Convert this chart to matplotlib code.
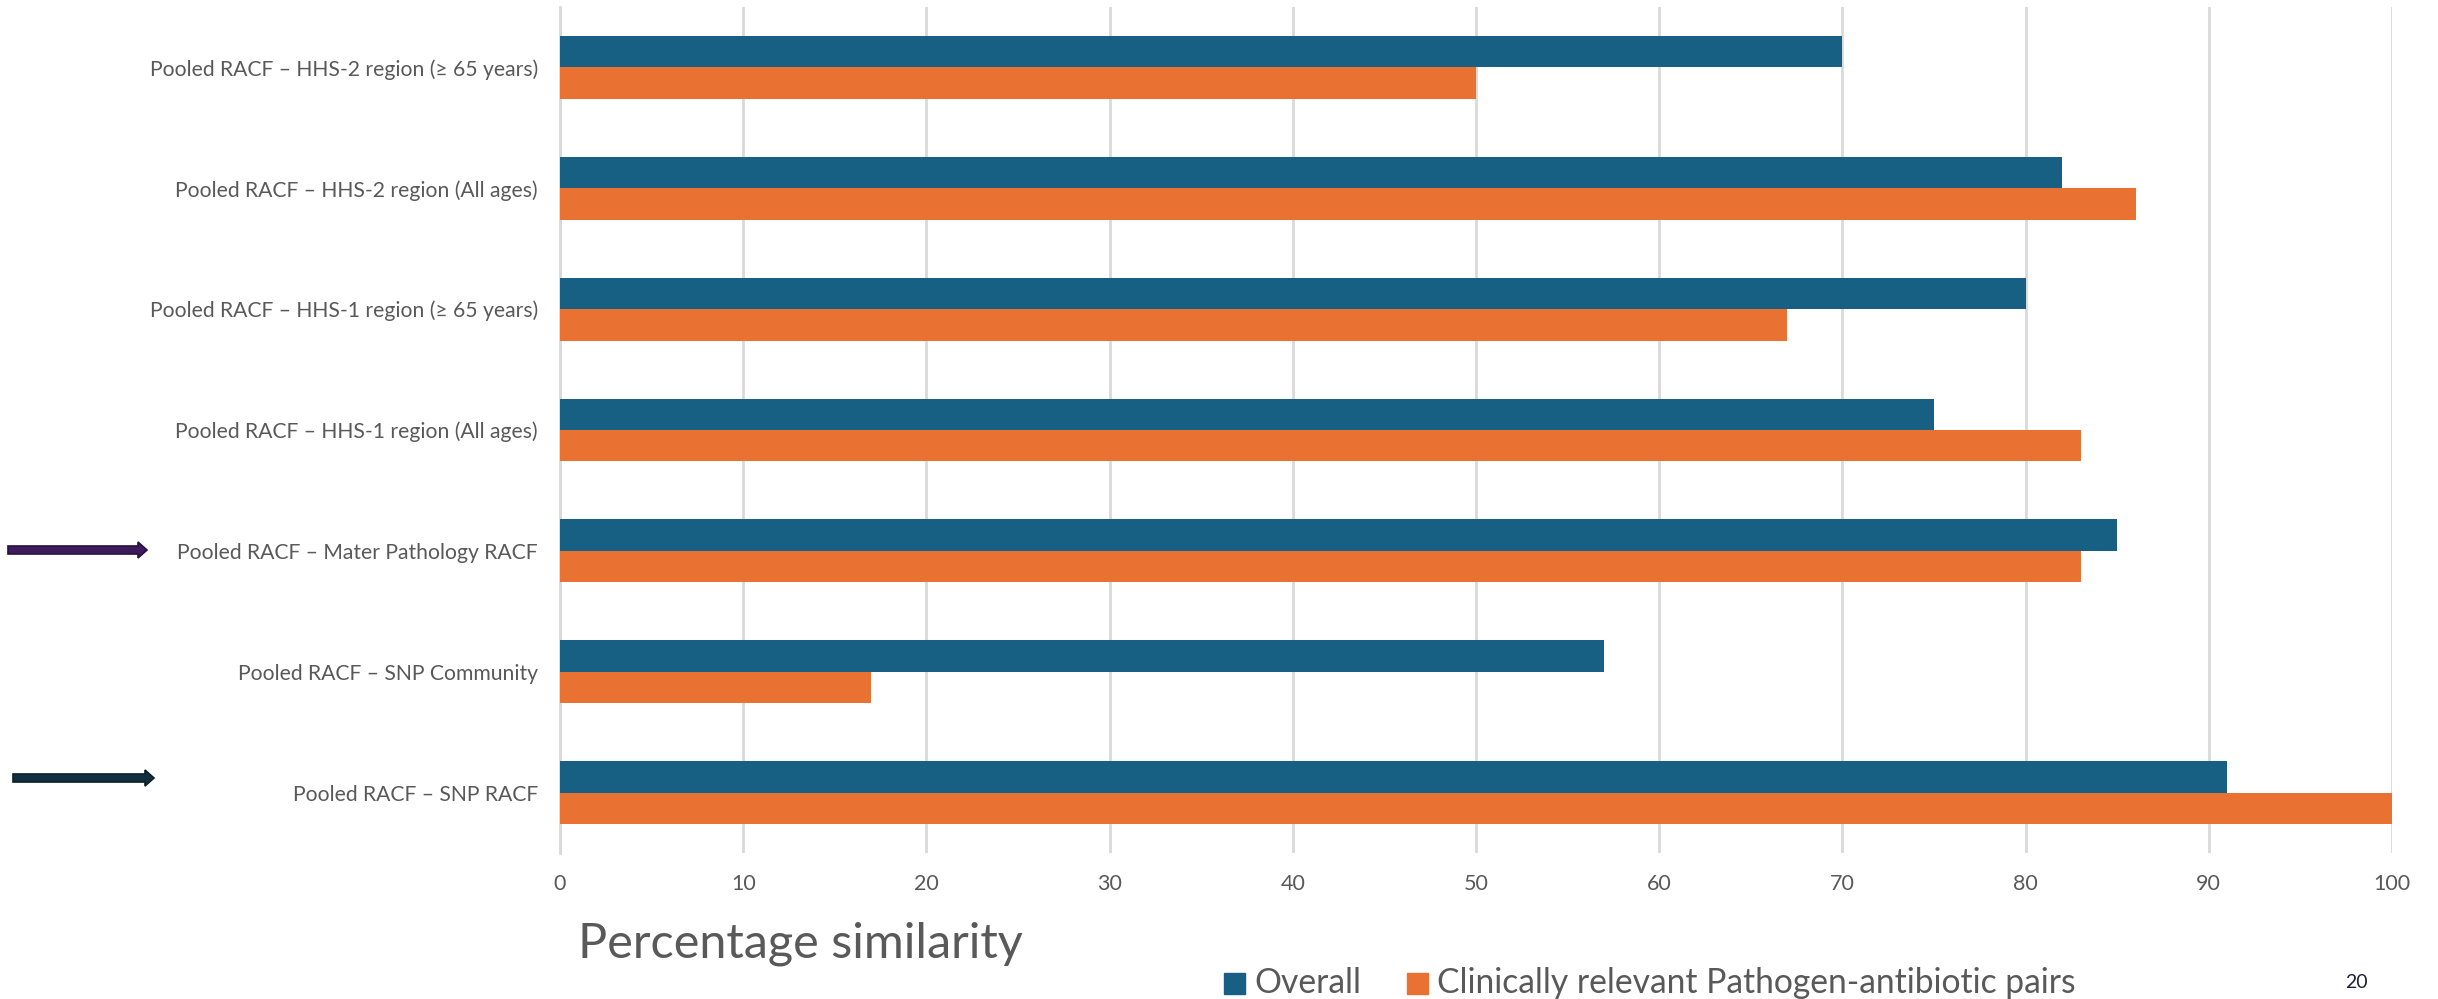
import matplotlib
matplotlib.use("Agg")
import matplotlib.pyplot as plt
from matplotlib.patches import FancyArrow, Rectangle
import numpy as np

categories = [
    "Pooled RACF – HHS-2 region (≥ 65 years)",
    "Pooled RACF – HHS-2 region (All ages)",
    "Pooled RACF – HHS-1 region (≥ 65 years)",
    "Pooled RACF – HHS-1 region (All ages)",
    "Pooled RACF – Mater Pathology RACF",
    "Pooled RACF – SNP Community",
    "Pooled RACF – SNP RACF",
]
overall = [70, 82, 80, 75, 85, 57, 91]
clinical = [50, 86, 67, 83, 83, 17, 100]
series_names = ["Overall", "Clinically relevant Pathogen-antibiotic pairs"]
xticks = [0, 10, 20, 30, 40, 50, 60, 70, 80, 90, 100]

BLUE = "#176084"
ORANGE = "#E97132"
GRID = "#D9D9D9"
TXT = "#595959"
FONT = ["Lato", "DejaVu Sans"]
plt.rcParams["font.family"] = FONT

W, H = 2438, 999
fig = plt.figure(figsize=(W / 100, H / 100), dpi=100)
fig.patch.set_facecolor("white")

L, R, T, B = 560, 2392, 7, 853
ax = fig.add_axes([L / W, 1 - B / H, (R - L) / W, (B - T) / H])

y = np.arange(len(categories))
bh = 0.26
ax.barh(y - bh / 2, overall, height=bh, color=BLUE, zorder=3)
ax.barh(y + bh / 2, clinical, height=bh, color=ORANGE, zorder=3)

ax.set_xlim(0, 100)
ax.set_ylim(len(categories) - 0.5, -0.5)
ax.set_xticks(xticks)
ax.set_xticklabels([str(v) for v in xticks])
ax.set_yticks(y)
ax.set_yticklabels(categories)
ax.xaxis.grid(True, color=GRID, linewidth=2, zorder=0)
ax.yaxis.grid(False)
for s in ["top", "right", "bottom"]:
    ax.spines[s].set_visible(False)
ax.spines["left"].set_color(GRID)
ax.spines["left"].set_linewidth(2)
ax.tick_params(axis="both", length=0, colors=TXT)
ax.tick_params(axis="x", labelsize=15.5, pad=15)
ax.tick_params(axis="y", labelsize=15.2, pad=16)

# axis title
fig.text(578 / W, 1 - 944 / H, "Percentage similarity", fontsize=35, color=TXT,
         ha="left", va="center")

# legend (manual)
leg_y = 1 - 983 / H
sq = 21
fig.add_artist(Rectangle((1224 / W, 1 - 994 / H), sq / W, sq / H,
                         transform=fig.transFigure, color=BLUE))
fig.text(1254 / W, leg_y, series_names[0], fontsize=24.2, color=TXT, ha="left", va="center")
fig.add_artist(Rectangle((1407 / W, 1 - 994 / H), sq / W, sq / H,
                         transform=fig.transFigure, color=ORANGE))
fig.text(1437 / W, leg_y, series_names[1], fontsize=24.2, color=TXT, ha="left", va="center")

# page number
fig.text(2356 / W, 1 - 983 / H, "20", fontsize=14, color="#1F1F3F", ha="center", va="center")

# arrows
def add_arrow(x0, x1, yc, fc, ec):
    hl = 9
    fig.add_artist(FancyArrow(x0 / W, 1 - yc / H, (x1 - x0) / W, 0,
                              width=8 / H, head_width=16 / H, head_length=hl / W,
                              length_includes_head=True, transform=fig.transFigure,
                              facecolor=fc, edgecolor=ec, linewidth=1.2))

add_arrow(8, 147, 550, "#3E1A5E", "#2A1040")
add_arrow(13, 154, 778, "#11303F", "#0A1F2A")

fig.savefig("out.png", dpi=100, facecolor="white")
